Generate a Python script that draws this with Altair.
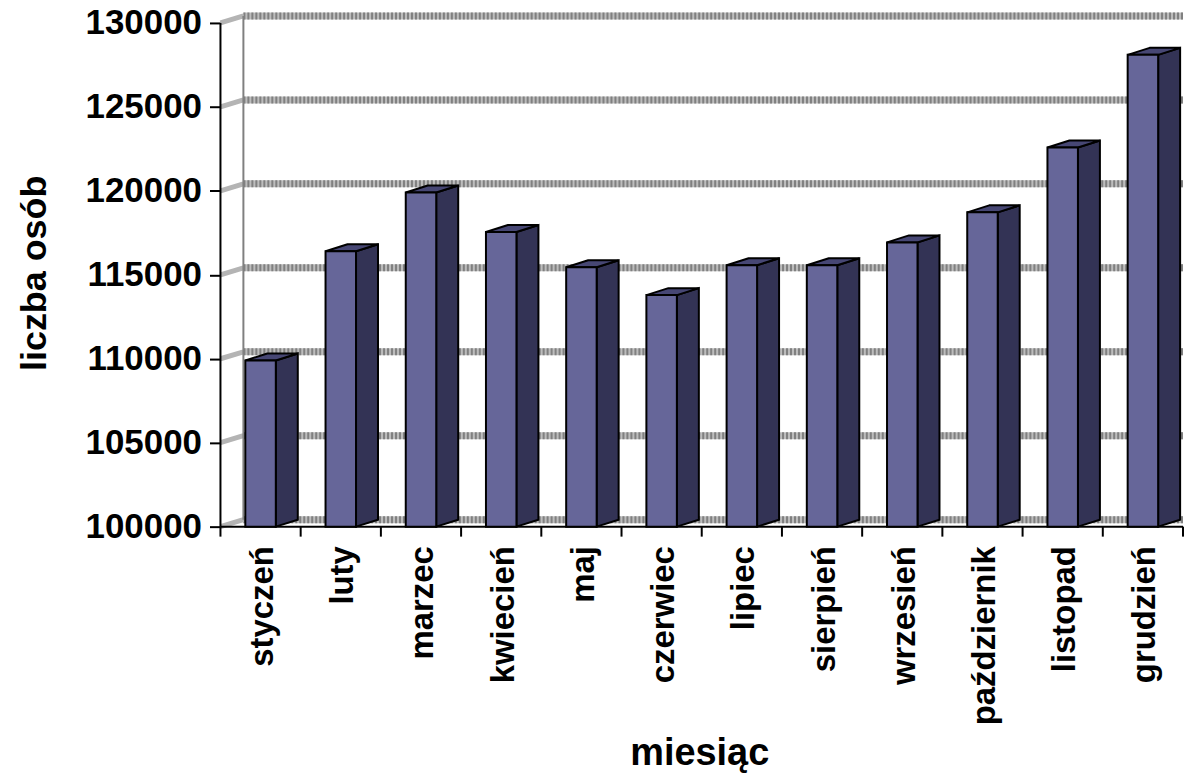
import altair as alt
import pandas as pd

months = ["styczeń","luty","marzec","kwiecień","maj","czerwiec","lipiec","sierpień","wrzesień","październik","listopad","grudzień"]
values = [109900,116400,119900,117550,115450,113790,115570,115570,116930,118720,122580,128100]
grid = [100000,105000,110000,115000,120000,125000,130000]
boundaries = list(range(13))

FONT = "Liberation Sans"
X_MAX = 12.0
Y_LOW, Y_HIGH = 99406, 130832
DX = 0.274
DY = 416
WALL = 0.286
BW = 0.38

xs = alt.Scale(domain=[0, X_MAX], nice=False, zero=False)
ys = alt.Scale(domain=[Y_LOW, Y_HIGH], nice=False, zero=False)
x_axis = alt.Axis(
    values=[i + 0.5 for i in range(12)],
    labelExpr="%s[round(datum.value - 0.5)]" % str(months),
    labelAngle=270, labelAlign="right", labelBaseline="middle",
    labelFont=FONT, labelFontWeight="bold", labelFontSize=33, labelColor="black",
    labelPadding=9, labelOffset=2, ticks=False, domain=False, grid=False, labelOverlap=False, labelBound=False, labelFlush=False,
    labelLimit=300, title="miesiąc", titleX=480,
    titleFont=FONT, titleFontWeight="bold", titleFontSize=38, titleColor="black", titlePadding=10)
y_axis = alt.Axis(
    values=grid, format="d", tickSize=11, tickWidth=2, tickColor="black", domain=False, grid=False,
    labelFont=FONT, labelFontWeight="bold", labelFontSize=35, labelColor="black", labelPadding=8,
    title="liczba osób", titleFont=FONT, titleFontWeight="bold", titleFontSize=36, titleColor="black", titlePadding=32)
X = lambda f: alt.X(f, type="quantitative", scale=xs, axis=x_axis)
Y = lambda f: alt.Y(f, type="quantitative", scale=ys, axis=y_axis)

bars = pd.DataFrame({"m": months, "v": values, "i": range(12)})
bars["x0"] = bars.i + 0.5 - BW/2
bars["x1"] = bars.i + 0.5 + BW/2
bars["x2"] = bars.x1 + DX
bars["base"] = 100000
bars["base2"] = 100000 + DY
bars["v2"] = bars.v + DY

side = pd.concat([
    pd.DataFrame({"id": bars.i, "x": bars.x1, "lo": bars.base, "hi": bars.v}),
    pd.DataFrame({"id": bars.i, "x": bars.x2, "lo": bars.base2, "hi": bars.v2}),
])
top = pd.concat([
    pd.DataFrame({"id": bars.i, "y": bars.v, "a": bars.x0, "b": bars.x1}),
    pd.DataFrame({"id": bars.i, "y": bars.v2, "a": bars.x0 + DX, "b": bars.x2}),
])

g = pd.DataFrame({"v": grid})
g["back"] = g.v + DY
g["x0"] = 0.0; g["x1"] = WALL; g["x2"] = X_MAX
diag = pd.concat([
    pd.DataFrame({"id": g.v, "x": g.x0, "y": g.v}),
    pd.DataFrame({"id": g.v, "x": g.x1, "y": g.back}),
])

back_lines = alt.Chart(g).mark_rule(color="#bdbdbd", strokeWidth=7).encode(x=X("x1"), x2="x2", y=Y("back"))
back_tex = alt.Chart(g).mark_rule(color="#808080", strokeWidth=7, strokeDash=[2, 2]).encode(x=X("x1"), x2="x2", y=Y("back"))
diag_lines = alt.Chart(diag).mark_line(color="#b4b4b4", strokeWidth=5).encode(x=X("x"), y=Y("y"), detail="id:N")
wall = alt.Chart(pd.DataFrame({"x":[WALL],"a":[100000+DY],"b":[130000+DY]})).mark_rule(color="#808080", strokeWidth=2).encode(x=X("x"), y=Y("a"), y2="b")
front_axis = alt.Chart(pd.DataFrame({"x":[0],"a":[100000],"b":[130000]})).mark_rule(color="black", strokeWidth=2).encode(x=X("x"), y=Y("a"), y2="b")
base_line = alt.Chart(pd.DataFrame({"a":[0],"b":[12],"y":[100000]})).mark_rule(color="black", strokeWidth=2).encode(x=X("a"), x2="b", y=Y("y"))
x_ticks = alt.Chart(pd.DataFrame({"x":boundaries,"a":[100000]*13,"b":[Y_LOW]*13})).mark_rule(color="black", strokeWidth=2).encode(x=X("x"), y=Y("a"), y2="b")

front = alt.Chart(bars).mark_rect(fill="#666699", stroke="black", strokeWidth=2).encode(x=X("x0"), x2="x1", y=Y("base"), y2="v")
side_m = alt.Chart(side).mark_area(fill="#333355", stroke="black", strokeWidth=2, orient="vertical", fillOpacity=1).encode(x=X("x"), y=Y("lo"), y2="hi", detail="id:N")
top_m = alt.Chart(top).mark_area(fill="#474774", stroke="black", strokeWidth=2, orient="horizontal", fillOpacity=1).encode(y=Y("y"), x=X("a"), x2="b", detail="id:N")

chart = alt.layer(back_lines, back_tex, diag_lines, wall, base_line, front_axis, x_ticks, side_m, top_m, front).properties(
    width=965, height=529, background="white",
    padding={"left": 8, "top": -3, "right": 0, "bottom": 0},
    autosize=alt.AutoSizeParams(type="pad"),
).configure_view(stroke=None)
chart.save("out.html", embed_options={"renderer": "svg", "actions": False})
